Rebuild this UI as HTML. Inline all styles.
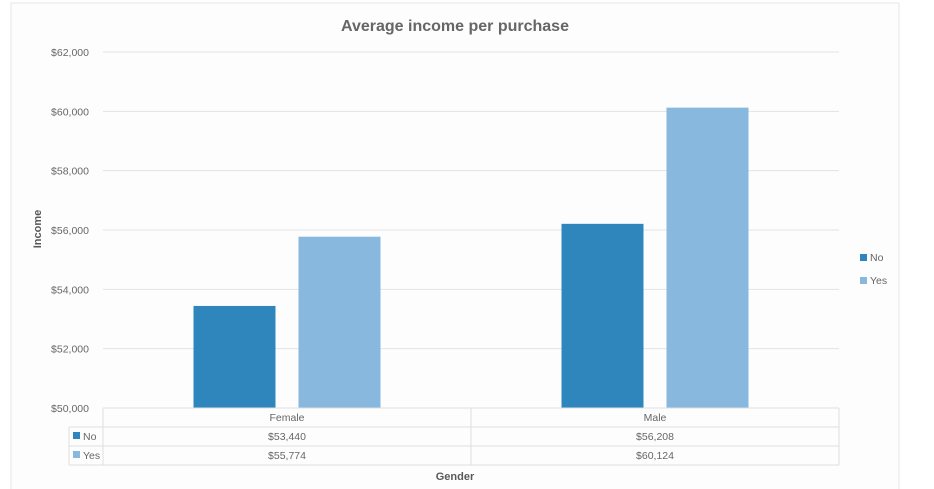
<!DOCTYPE html>
<html><head><meta charset="utf-8"><style>
html,body{margin:0;padding:0;background:#fff;width:934px;height:489px;overflow:hidden}
svg{display:block;font-family:"Liberation Sans",sans-serif}
</style></head><body>
<svg id="chart" width="934" height="489" viewBox="0 0 934 489">
<rect x="11" y="3" width="888" height="490" fill="#fdfdfd" stroke="#e6e6e6"/>
<text x="455" y="31" text-anchor="middle" font-size="16" font-weight="bold" fill="#666">Average income per purchase</text>
<text transform="translate(41,229) rotate(-90)" text-anchor="middle" font-size="11" font-weight="bold" fill="#595959">Income</text>
<text x="455" y="480" text-anchor="middle" font-size="11" font-weight="bold" fill="#595959">Gender</text>
<g id="grid"></g><g id="bars"></g><g id="table"></g><g id="legend"></g>
</svg>
<script>
const categories = ["Female", "Male"];
const seriesNames = ["No", "Yes"];
const noValues = [53440, 56208];
const yesValues = [55774, 60124];
const yTicks = [50000, 52000, 54000, 56000, 58000, 60000, 62000];
const colors = ["#2e86bc", "#88b8de"];
const NS = "http://www.w3.org/2000/svg";
const X0 = 103, X1 = 839, Y0 = 408, Y1 = 52, YMIN = 50000, YMAX = 62000;
function y(v){ return Y0 - (v - YMIN) / (YMAX - YMIN) * (Y0 - Y1); }
const catW = (X1 - X0) / categories.length;
function xc(i){ return X0 + catW * (i + 0.5); }
function mk(tag, attrs, parent, text){
  const e = document.createElementNS(NS, tag);
  for (const k in attrs) e.setAttribute(k, attrs[k]);
  if (text !== undefined) e.textContent = text;
  parent.appendChild(e); return e;
}
const grid = document.getElementById("grid");
yTicks.forEach(t => {
  const l = mk("line", {x1: X0, x2: X1, y1: y(t), y2: y(t), stroke: "#e3e3e3", "stroke-width": 1}, grid);
  
  
  const tx = mk("text", {x: 89, y: y(t) + 4, "text-anchor": "end", "font-size": 10.5, fill: "#666"}, grid, "$" + t.toLocaleString("en-US"));
  
  
});
const bars = document.getElementById("bars");
const series = [noValues, yesValues];
const bw = 82, gap = 23;
categories.forEach((c, i) => {
  series.forEach((vals, s) => {
    const x = xc(i) + (s === 0 ? -gap / 2 - bw : gap / 2);
    const r = mk("rect", {x: x, y: y(vals[i]), width: bw, height: Y0 - y(vals[i]), fill: colors[s]}, bars);
    
    
  });
});
const tb = document.getElementById("table");
const rowsY = [408, 427, 446, 465];
const ln = (a) => { const l = mk("line", Object.assign({stroke: "#dedede", "stroke-width": 1}, a), tb);   };
ln({x1: X0, x2: X1, y1: 408, y2: 408});
[427, 446, 465].forEach(yy => ln({x1: 69, x2: X1, y1: yy, y2: yy}));
ln({x1: 69, x2: 69, y1: 427, y2: 465});
ln({x1: X0, x2: X0, y1: 408, y2: 465});
ln({x1: X0 + catW, x2: X0 + catW, y1: 408, y2: 465});
ln({x1: X1, x2: X1, y1: 408, y2: 465});
categories.forEach((c, i) => {
  const h = mk("text", {x: xc(i), y: 421, "text-anchor": "middle", "font-size": 10.5, fill: "#666"}, tb, c);
  
  
  series.forEach((vals, s) => {
    const t = mk("text", {x: xc(i), y: rowsY[s + 1] + 13, "text-anchor": "middle", "font-size": 10.5, fill: "#666"}, tb, "$" + vals[i].toLocaleString("en-US"));
    
    
  });
});
seriesNames.forEach((n, s) => {
  const k = mk("rect", {x: 73, y: rowsY[s + 1] + 5, width: 7, height: 7, fill: colors[s]}, tb);
  
  
  const t = mk("text", {x: 83, y: rowsY[s + 1] + 13, "font-size": 10.5, fill: "#666"}, tb, n);
  
  
});
const lg = document.getElementById("legend");
seriesNames.forEach((n, s) => {
  const yy = 254 + s * 23;
  const k = mk("rect", {x: 860, y: yy, width: 7, height: 7, fill: colors[s]}, lg);
  
  
  const t = mk("text", {x: 870, y: yy + 7, "font-size": 10.5, fill: "#666"}, lg, n);
  
  
});
</script>
</body></html>
